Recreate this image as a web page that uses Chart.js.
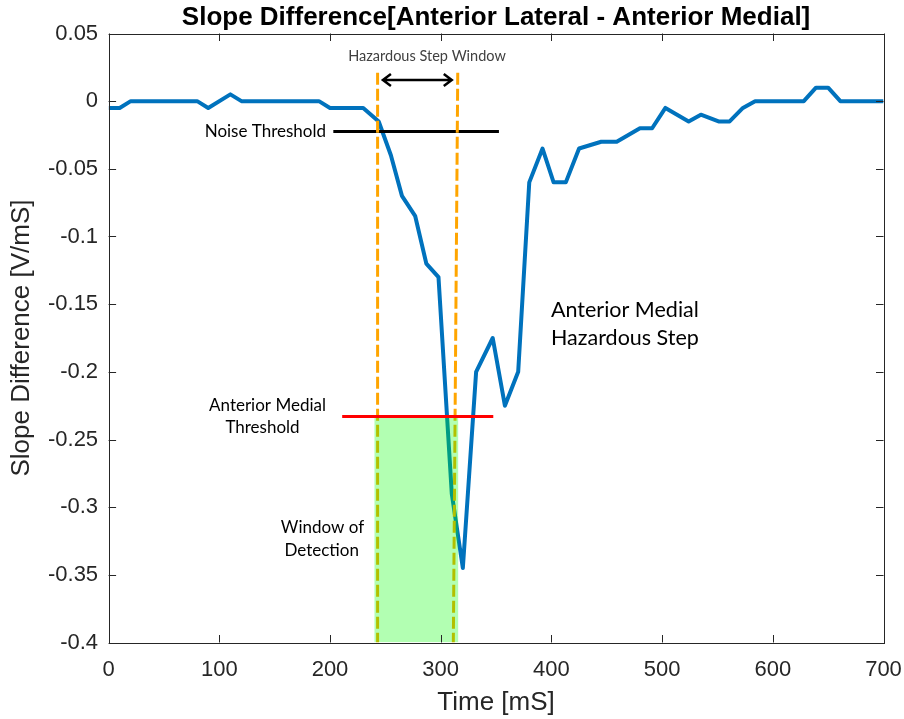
<!DOCTYPE html>
<html>
<head>
<meta charset="utf-8">
<script src="https://cdn.jsdelivr.net/npm/chart.js@4.4.0/dist/chart.umd.min.js"></script>
<style>
  html, body { margin: 0; padding: 0; background: #fff; }
  #wrap { width: 904px; height: 719px; }
</style>
</head>
<body>
<div id="wrap"><canvas id="slopeChart" width="904" height="719"></canvas></div>
<script>
// series
const timeMs = [0, 10, 20, 80, 90, 110, 120, 190, 200, 230, 244, 255, 265, 277, 287, 298, 310, 320, 332, 347, 358, 370,
  380, 392, 402, 413, 425, 445, 459, 480, 491, 503, 524, 535, 551, 561, 573, 584, 628, 639, 650, 661, 700];
const slopeDiff = [-0.005, -0.005, 0, 0, -0.005, 0.005, 0, 0, -0.005, -0.005, -0.015, -0.04, -0.07, -0.085, -0.12, -0.13,
  -0.29, -0.345, -0.2, -0.175, -0.225, -0.2, -0.06, -0.035, -0.06, -0.06, -0.035, -0.03, -0.03, -0.02, -0.02, -0.005,
  -0.015, -0.01, -0.015, -0.015, -0.005, 0, 0, 0.01, 0.01, 0, 0];

// axis ticks
const xTicks = [0, 100, 200, 300, 400, 500, 600, 700];
const yTicks = [0.05, 0, -0.05, -0.1, -0.15, -0.2, -0.25, -0.3, -0.35, -0.4];
const yTickLabels = ["0.05", "0", "-0.05", "-0.1", "-0.15", "-0.2", "-0.25", "-0.3", "-0.35", "-0.4"];

// annotation marks (data units)
const noiseX = [203, 352.6];
const noiseY = [-0.0224, -0.0224];
const medialX = [211, 347.5];
const medialY = [-0.233, -0.233];
const stepLeftX = [243, 243];
const stepLeftY = [0.021, -0.4];
const stepRightX = [315.4, 311.4];
const stepRightY = [0.021, -0.4];
const detectX = [240, 316];
const detectY = [-0.233, -0.233];
const arrowX = [247.8, 310];
const arrowY = 0.0157;

const pts = (xs, ys) => xs.map((v, i) => ({ x: v, y: ys[i] }));

Chart.defaults.font.family = "'Liberation Sans', Arial, sans-serif";
Chart.defaults.color = "#262626";

const AXIS = "#262626";
const NOTE_FONT = "Lato, 'Open Sans', sans-serif";

// box, inward ticks, arrow and the text notes
const overlay = {
  id: "overlay",
  afterDatasetsDraw(chart) {
    const { ctx, chartArea: a, scales } = chart;
    const x = scales.x, y = scales.y;
    ctx.save();

    // axes box
    ctx.strokeStyle = AXIS;
    ctx.lineWidth = 1;
    ctx.strokeRect(Math.round(a.left) + 0.5, Math.round(a.top) + 0.5,
      Math.round(a.right - a.left), Math.round(a.bottom - a.top));

    // inward ticks
    const tl = 7.5;
    ctx.beginPath();
    xTicks.forEach((t) => {
      const px = Math.round(x.getPixelForValue(t)) + 0.5;
      ctx.moveTo(px, a.bottom); ctx.lineTo(px, a.bottom - tl);
      ctx.moveTo(px, a.top); ctx.lineTo(px, a.top + tl);
    });
    yTicks.forEach((t) => {
      const py = Math.round(y.getPixelForValue(t)) + 0.5;
      ctx.moveTo(a.left, py); ctx.lineTo(a.left + tl, py);
      ctx.moveTo(a.right, py); ctx.lineTo(a.right - tl, py);
    });
    ctx.stroke();

    // double arrow
    const ax0 = x.getPixelForValue(arrowX[0]);
    const ax1 = x.getPixelForValue(arrowX[1]);
    const ay = y.getPixelForValue(arrowY);
    ctx.strokeStyle = "#000";
    ctx.lineWidth = 2.5;
    ctx.lineJoin = "miter";
    ctx.beginPath();
    ctx.moveTo(ax0, ay); ctx.lineTo(ax1, ay);
    ctx.moveTo(ax0 + 8, ay - 6); ctx.lineTo(ax0, ay); ctx.lineTo(ax0 + 8, ay + 6);
    ctx.moveTo(ax1 - 8, ay - 6); ctx.lineTo(ax1, ay); ctx.lineTo(ax1 - 8, ay + 6);
    ctx.stroke();

    // notes
    ctx.textBaseline = "alphabetic";
    ctx.fillStyle = "#404040";
    ctx.font = "14.5px " + NOTE_FONT;
    ctx.textAlign = "center";
    ctx.fillText("Hazardous Step Window", 427, 61);

    ctx.fillStyle = "#000";
    ctx.font = "17px " + NOTE_FONT;
    ctx.textAlign = "right";
    ctx.fillText("Noise Threshold", 326, 137);

    ctx.textAlign = "center";
    ctx.fillText("Anterior Medial", 267.5, 411);
    ctx.fillText("Threshold", 262.5, 433);
    ctx.fillText("Window of", 322.5, 533);
    ctx.fillText("Detection", 321.7, 556);

    ctx.font = "21.5px " + NOTE_FONT;
    ctx.textAlign = "left";
    ctx.fillText("Anterior Medial", 551, 317);
    ctx.fillText("Hazardous Step", 551, 345);

    // title
    ctx.font = "bold 26px 'Liberation Sans', Arial, sans-serif";
    ctx.textAlign = "center";
    ctx.fillText("Slope Difference[Anterior Lateral - Anterior Medial]", (a.left + a.right) / 2, 25);

    ctx.restore();
  }
};

const dashed = [12, 4];

new Chart(document.getElementById("slopeChart"), {
  type: "line",
  data: {
    datasets: [
      {
        label: "Slope Difference",
        data: pts(timeMs, slopeDiff),
        borderColor: "#0072BD",
        borderWidth: 4,
        borderJoinStyle: "round",
        pointRadius: 0,
        tension: 0,
        order: 6,
      },
      {
        label: "Noise Threshold",
        data: pts(noiseX, noiseY),
        borderColor: "#000000",
        borderWidth: 3,
        pointRadius: 0,
        order: 5,
      },
      {
        label: "Step window left",
        data: pts(stepLeftX, stepLeftY),
        borderColor: "#FFA500",
        borderWidth: 3,
        borderDash: dashed,
        pointRadius: 0,
        order: 4,
      },
      {
        label: "Step window right",
        data: pts(stepRightX, stepRightY),
        borderColor: "#FFA500",
        borderWidth: 3,
        borderDash: dashed,
        pointRadius: 0,
        order: 4,
      },
      {
        label: "Window of Detection",
        data: pts(detectX, detectY),
        borderWidth: 0,
        borderColor: "rgba(0,0,0,0)",
        backgroundColor: "rgba(0,255,0,0.3)",
        fill: "start",
        pointRadius: 0,
        order: 3,
      },
      {
        label: "Anterior Medial Threshold",
        data: pts(medialX, medialY),
        borderColor: "#FF0000",
        borderWidth: 3,
        pointRadius: 0,
        order: 2,
      },
    ],
  },
  options: {
    responsive: false,
    animation: false,
    layout: { padding: { left: 0, right: 20.5, top: 33.5, bottom: 0 } },
    plugins: {
      legend: { display: false },
      tooltip: { enabled: false },
      title: { display: false },
    },
    scales: {
      x: {
        type: "linear",
        min: 0,
        max: 700,
        afterBuildTicks: (s) => { s.ticks = xTicks.map((v) => ({ value: v })); },
        afterFit: (s) => { s.height = 76.5; s.paddingLeft = 0; s.paddingRight = 0; },
        grid: { display: false, drawTicks: false },
        border: { display: false },
        ticks: { padding: 14, font: { size: 22 }, color: AXIS, maxRotation: 0, callback: (v) => String(v) },
        title: { display: true, text: "Time [mS]", font: { size: 26 }, color: AXIS, padding: { top: 0, bottom: 1 } },
      },
      y: {
        type: "linear",
        min: -0.4,
        max: 0.05,
        afterBuildTicks: (s) => { s.ticks = yTicks.map((v) => ({ value: v })); },
        afterFit: (s) => { s.width = 108.6; s.paddingTop = 0; s.paddingBottom = 0; },
        grid: { display: false, drawTicks: false },
        border: { display: false },
        ticks: {
          padding: 10.5,
          font: { size: 22 },
          color: AXIS,
          callback: (v, i) => yTickLabels[i],
        },
        title: { display: true, text: "Slope Difference [V/mS]", font: { size: 26 }, color: AXIS, padding: { top: 6, bottom: 0 } },
      },
    },
  },
  plugins: [overlay],
});
</script>
</body>
</html>
